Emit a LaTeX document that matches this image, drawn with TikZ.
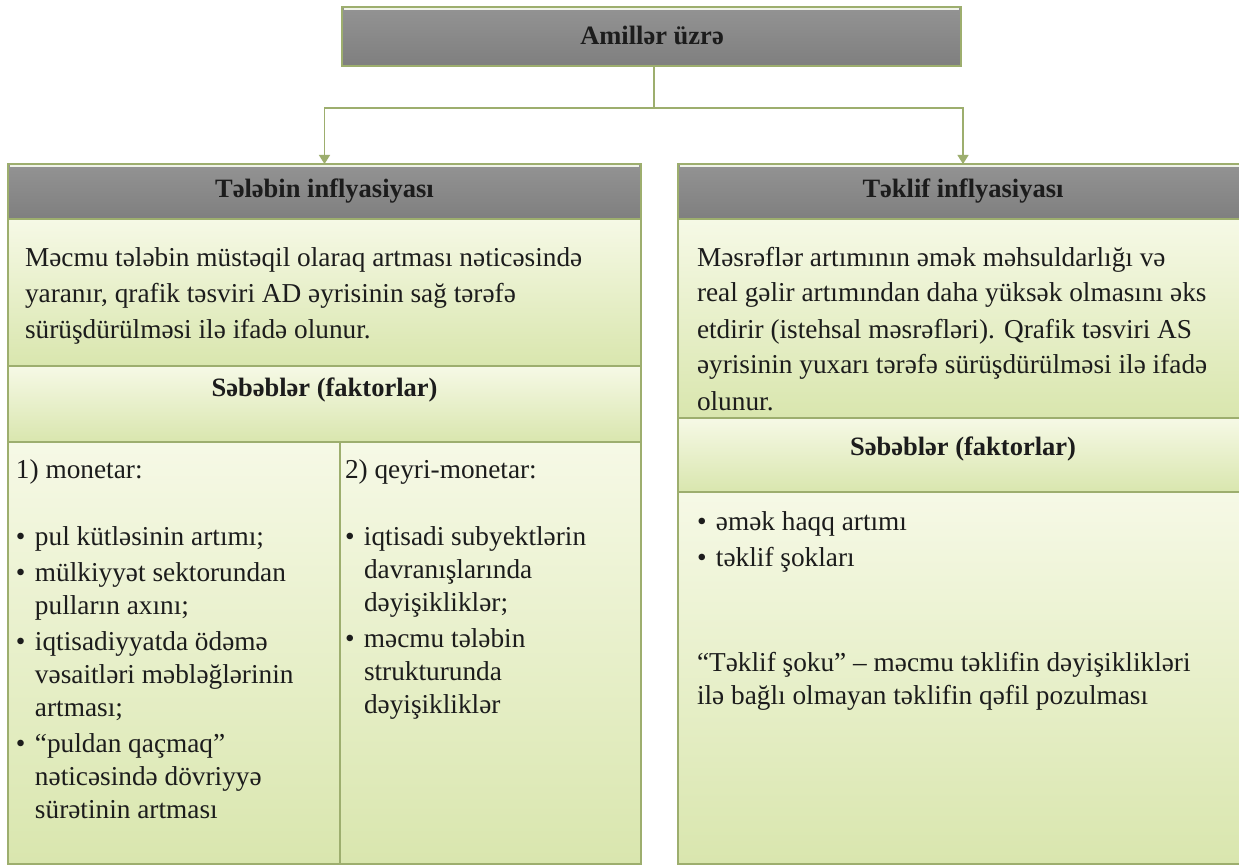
\documentclass[tikz,border=0pt]{standalone}
\usepackage{fontspec}
\setmainfont{Liberation Serif}
\usetikzlibrary{arrows.meta}
\definecolor{olivec}{HTML}{9DAE6E}
\definecolor{gtop}{HTML}{F6F9E6}
\definecolor{gbot}{HTML}{D9E6AE}
\definecolor{htop}{HTML}{939393}
\definecolor{hbot}{HTML}{7F7F7F}
\definecolor{txtc}{HTML}{1C1C1C}
\newcommand{\bodyfs}{\fontsize{27.3}{36}\selectfont}
\newcommand{\listfs}{\fontsize{27.3}{33}\selectfont}
\newcommand{\headfs}{\fontsize{26.5}{32}\selectfont}
\newcommand{\bul}{\makebox[19pt][l]{•}}
\newcommand{\ind}{\hspace*{19pt}}
\begin{document}
\begin{tikzpicture}[x=1pt,y=-1pt,
  box/.style={draw=olivec, line width=1.6pt, inner sep=0pt, outer sep=0pt, rectangle},
  graybox/.style={box, top color=htop, bottom color=hbot},
  greenbox/.style={box, top color=gtop, bottom color=gbot},
  hilite/.style={draw=white!85!olivec, line width=1.4pt},
  txt/.style={inner sep=0pt, outer sep=0pt, text=txtc, font=\bodyfs, align=left},
  lst/.style={inner sep=0pt, outer sep=0pt, text=txtc, font=\listfs, align=left},
  head/.style={inner sep=0pt, outer sep=0pt, text=txtc, font=\headfs\bfseries},
  conn/.style={draw=olivec, line width=1.3pt},
  arr/.style={-{Triangle[width=11pt,length=9pt]}}]
\useasboundingbox (0,0) rectangle (1239,866);
\clip (0,0) rectangle (1239,866);
\fill[white] (0,0) rectangle (1239,866);

% boxes
\node[graybox, minimum width=619pt, minimum height=59pt] (top) at (651.5,36.5) {};
\node[graybox, minimum width=633pt, minimum height=55pt] (lhead) at (324.5,191.5) {};
\node[greenbox, minimum width=633pt, minimum height=147pt] (lbody) at (324.5,292.5) {};
\node[greenbox, minimum width=633pt, minimum height=76pt] (lsab) at (324.5,404) {};
\node[greenbox, minimum width=332pt, minimum height=422pt] (lcola) at (174,653) {};
\node[greenbox, minimum width=301pt, minimum height=422pt] (lcolb) at (490.5,653) {};
\node[graybox, minimum width=570pt, minimum height=55pt] (rhead) at (963,191.5) {};
\node[greenbox, minimum width=570pt, minimum height=199pt] (rbody) at (963,318.5) {};
\node[greenbox, minimum width=570pt, minimum height=74pt] (rsab) at (963,455) {};
\node[greenbox, minimum width=570pt, minimum height=372pt] (rcol) at (963,678) {};

% light top edges of the grey bars
\draw[hilite] ([xshift=2pt,yshift=-2.2pt]top.north west) -- ([xshift=-2pt,yshift=-2.2pt]top.north east);
\draw[hilite] ([xshift=2pt,yshift=-2.2pt]lhead.north west) -- ([xshift=-2pt,yshift=-2.2pt]lhead.north east);
\draw[hilite] ([xshift=2pt,yshift=-2.2pt]rhead.north west) -- ([xshift=-2pt,yshift=-2.2pt]rhead.north east);

% connectors
\coordinate (j) at (654,108);
\draw[conn] (top.south -| j) -- (j);
\draw[conn,arr] (j) -| (lhead.north);
\draw[conn,arr] (j) -| (rhead.north);

% texts
\node[head, anchor=base] (ttop) at (652,45) {Amillər üzrə};
\node[head, anchor=base] (tlhead) at (324.5,198) {Tələbin inflyasiyası};
\node[head, anchor=base] (trhead) at (963,198) {Təklif inflyasiyası};

\node[txt, anchor=north west] (tlbody) at (25,241.8) {\strut Məcmu tələbin müstəqil olaraq artması nəticəsində\\
yaranır, qrafik təsviri AD əyrisinin sağ tərəfə\\
sürüşdürülməsi ilə ifadə olunur.};

\node[head, anchor=base] (tlsab) at (324.5,396) {Səbəblər (faktorlar)};

\node[txt, anchor=base west] (tlca) at (16,478) {1) monetar:};
\node[lst, anchor=north west] (tlcb) at (16,521.9) {\strut\bul pul kütləsinin artımı;\\[3pt]
\bul mülkiyyət sektorundan\\
\ind pulların axını;\\[3pt]
\bul iqtisadiyyatda ödəmə\\
\ind vəsaitləri məbləğlərinin\\
\ind artması;\\[3pt]
\bul “puldan qaçmaq”\\
\ind nəticəsində dövriyyə\\
\ind sürətinin artması};

\node[txt, anchor=base west] (tlda) at (345,478) {2) qeyri-monetar:};
\node[lst, anchor=north west] (tldb) at (345,521.9) {\strut\bul iqtisadi subyektlərin\\
\ind davranışlarında\\
\ind dəyişikliklər;\\[3pt]
\bul məcmu tələbin\\
\ind strukturunda\\
\ind dəyişikliklər};

\node[txt, anchor=north west] (trbody) at (697,240.8) {\strut Məsrəflər artımının əmək məhsuldarlığı və\\
real gəlir artımından daha yüksək olmasını əks\\
etdirir (istehsal məsrəfləri). Qrafik təsviri AS\\
əyrisinin yuxarı tərəfə sürüşdürülməsi ilə ifadə\\
olunur.};

\node[head, anchor=base] (trsab) at (963,455) {Səbəblər (faktorlar)};

\node[txt, anchor=north west] (trcb) at (697,504.8) {\strut\bul əmək haqq artımı\\
\bul təklif şokları};

\node[lst, anchor=north west] (trnote) at (697,647.9) {\strut“Təklif şoku” – məcmu təklifin dəyişiklikləri\\
ilə bağlı olmayan təklifin qəfil pozulması};
\end{tikzpicture}
\end{document}
